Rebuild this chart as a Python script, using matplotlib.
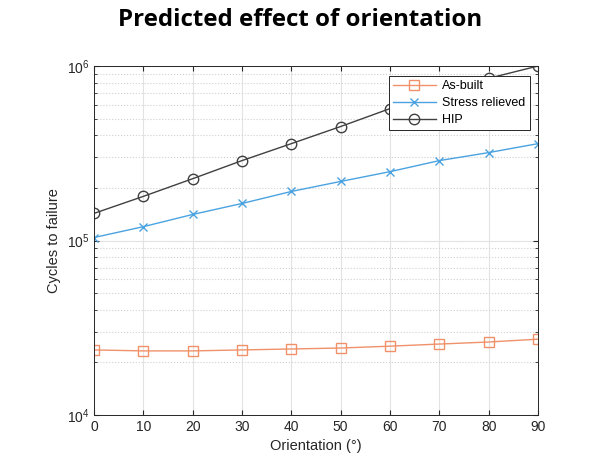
import matplotlib
matplotlib.use("Agg")
import matplotlib.pyplot as plt
from matplotlib.ticker import LogLocator, NullFormatter

orientation = [0, 10, 20, 30, 40, 50, 60, 70, 80, 90]
as_built = [2.36e4, 2.33e4, 2.33e4, 2.36e4, 2.39e4, 2.42e4, 2.48e4, 2.55e4, 2.62e4, 2.72e4]
stress_relieved = [1.04e5, 1.20e5, 1.41e5, 1.63e5, 1.91e5, 2.18e5, 2.48e5, 2.87e5, 3.19e5, 3.59e5]
hip = [1.43e5, 1.79e5, 2.26e5, 2.87e5, 3.59e5, 4.50e5, 5.70e5, 7.10e5, 8.50e5, 1.0e6]

plt.rcParams['font.family'] = ['Liberation Sans', 'DejaVu Sans']

fig = plt.figure(figsize=(6.01, 4.57), dpi=100)
ax = fig.add_axes([94 / 601, 1 - 415 / 457, 444 / 601, 349 / 457])

ax.plot(orientation, as_built, color='#F0916A', marker='s', markersize=6.5,
        markerfacecolor='none', linewidth=1.0, label='As-built')
ax.plot(orientation, stress_relieved, color='#4AA3E0', marker='x', markersize=5.5,
        linewidth=1.0, label='Stress relieved')
ax.plot(orientation, hip, color='#404040', marker='o', markersize=7.5,
        markerfacecolor='none', linewidth=1.0, label='HIP')

ax.set_yscale('log')
ax.set_xlim(0, 90)
ax.set_ylim(1e4, 1e6)
ax.set_xticks(orientation)
ax.yaxis.set_minor_locator(LogLocator(base=10, subs=range(2, 10)))
ax.yaxis.set_minor_formatter(NullFormatter())

ax.grid(True, which='major', color='#e3e3e3', linewidth=0.8)
ax.grid(True, which='minor', axis='y', color='#d0d0d0', linestyle=':', linewidth=0.8)
ax.set_axisbelow(True)

ax.tick_params(which='both', direction='in', top=True, right=True,
               labelsize=10, colors='#262626')
ax.tick_params(which='minor', length=2.5)
for s in ax.spines.values():
    s.set_color('#262626')
    s.set_linewidth(0.7)

ax.set_xlabel('Orientation (°)', fontsize=10.5, color='#262626')
ax.set_ylabel('Cycles to failure', fontsize=10.5, color='#262626')

leg = ax.legend(loc='upper right', bbox_to_anchor=(0.995, 0.99), fontsize=9,
                fancybox=False, edgecolor='#262626', framealpha=1,
                handlelength=3.4, borderpad=0.35, labelspacing=0.4,
                handletextpad=0.5)
leg.get_frame().set_linewidth(0.7)

fig.text(0.5, 1 - 20 / 457, 'Predicted effect of orientation', ha='center', va='center',
         fontsize=17.3, fontweight='bold', family=['Open Sans', 'DejaVu Sans'])

fig.savefig('out.png', dpi=100)
